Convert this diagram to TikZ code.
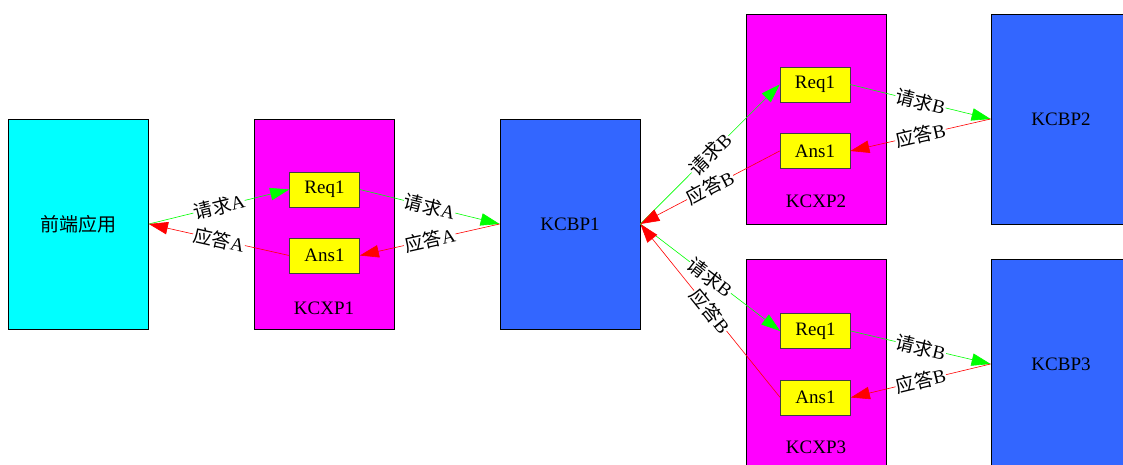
\documentclass[tikz,border=0pt]{standalone}
\usepackage{fontspec}
\setmainfont{Liberation Serif}
\newfontfamily\cjk{Noto Sans CJK SC}
\usetikzlibrary{arrows.meta}
\definecolor{bpblue}{HTML}{3366FF}
\definecolor{appcyan}{HTML}{00FFFF}
\definecolor{xpmag}{HTML}{FF00FF}
\definecolor{msgyel}{HTML}{FFFF00}
\definecolor{reqgreen}{HTML}{00FF00}
\definecolor{ansred}{HTML}{FF0000}
\begin{document}
\begin{tikzpicture}[x=1pt,y=-1pt,
  txt/.style={font=\fontsize{19}{22}\selectfont},
  box/.style={draw=black, line width=0.8pt, minimum width=140pt, minimum height=210pt, inner sep=0pt, txt},
  app/.style={box, fill=appcyan},
  xp/.style={box, fill=xpmag},
  bp/.style={box, fill=bpblue},
  msg/.style={draw=black!75, line width=0.7pt, fill=msgyel, minimum width=70pt, minimum height=35pt, inner sep=0pt, txt},
  req/.style={draw=reqgreen, line width=0.6pt, -{Triangle[length=19pt,width=12.5pt]}},
  ans/.style={draw=ansred, line width=0.6pt, -{Triangle[length=19pt,width=12.5pt]}},
  elab/.style={sloped, fill=white, inner sep=0.5pt, txt}
]
\useasboundingbox (0,0) rectangle (1123,465);
\clip (0,0) rectangle (1123,465);

% big boxes
\node[app] (app) at (78.5,224) {{\cjk 前端应用}};
\node[xp] (xp1) at (324,224) {};
\node[bp] (bp1) at (570,224) {KCBP1};
\node[xp] (xp2) at (816,119) {};
\node[bp] (bp2) at (1061,119) {KCBP2};
\node[xp] (xp3) at (816,364) {};
\node[bp] (bp3) at (1061,364) {KCBP3};

% cluster labels
\node[txt] (xp1l) at (324,308) {KCXP1};
\node[txt] (xp2l) at (816,201) {KCXP2};
\node[txt] (xp3l) at (816,447) {KCXP3};

% message boxes
\node[msg] (req1) at (324.5,189.5) {Req1};
\node[msg] (ans1) at (324.5,255.5) {Ans1};
\node[msg] (req2) at (815,84.5) {Req1};
\node[msg] (ans2) at (815,151) {Ans1};
\node[msg] (req3) at (815.5,331) {Req1};
\node[msg] (ans3) at (815.5,397.5) {Ans1};

% edges
\draw[req] (app.east) -- node[elab] {{\cjk 请求}A} (req1.west);
\draw[ans] (ans1.west) -- node[elab] {{\cjk 应答}A} (app.east);
\draw[req] (req1.east) -- node[elab] {{\cjk 请求}A} (bp1.west);
\draw[ans] (bp1.west) -- node[elab] {{\cjk 应答}A} (ans1.east);

\draw[req] (bp1.east) -- node[elab] {{\cjk 请求}B} (req2.west);
\draw[ans] (ans2.west) -- node[elab] {{\cjk 应答}B} (bp1.east);
\draw[req] (bp1.east) -- node[elab] {{\cjk 请求}B} (req3.west);
\draw[ans] (ans3.west) -- node[elab] {{\cjk 应答}B} (bp1.east);

\draw[req] (req2.east) -- node[elab] {{\cjk 请求}B} (bp2.west);
\draw[ans] (bp2.west) -- node[elab] {{\cjk 应答}B} (ans2.east);
\draw[req] (req3.east) -- node[elab] {{\cjk 请求}B} (bp3.west);
\draw[ans] (bp3.west) -- node[elab] {{\cjk 应答}B} (ans3.east);
\end{tikzpicture}
\end{document}
